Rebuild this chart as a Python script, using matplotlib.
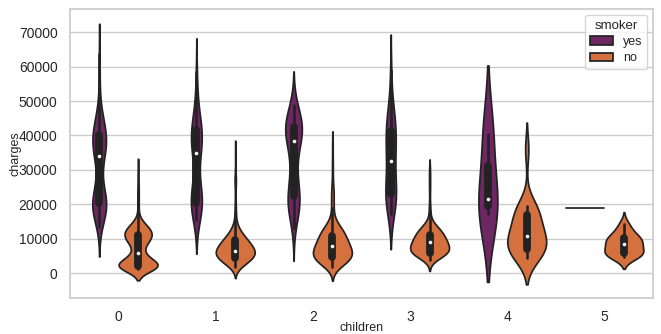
import numpy as np
import pandas as pd
import matplotlib
matplotlib.use("Agg")
import matplotlib.pyplot as plt
import seaborn as sns

children = [0, 1, 2, 3, 4, 5]
smoker_order = ["yes", "no"]

# charges per group, binned as (value, count) estimated from the violin shapes / boxes
yes0_charges = [13500, 15500, 17500, 19000, 20500, 22000, 24000, 26000, 28000, 30000, 32000,
                34000, 36000, 38000, 40000, 42000, 44000, 46000, 48000, 52000, 56000, 60000, 63800]
yes0_counts = [2, 4, 8, 12, 10, 7, 5, 3, 2, 2, 2, 7, 9, 11, 10, 7, 6, 3, 2, 1, 1, 1, 1]

no0_charges = [1200, 2000, 3000, 4000, 5000, 6000, 7000, 8000, 9000, 10000, 11000, 12000,
               13000, 14000, 15000, 16000, 18000, 20000, 22000, 24000, 26000, 28000, 30000]
no0_counts = [50, 72, 52, 28, 16, 12, 10, 14, 24, 32, 36, 36, 29, 19, 8, 4, 2, 3, 3, 3, 2, 2, 2]

yes1_charges = [15500, 17500, 19000, 20500, 22500, 24500, 27000, 30000, 33000, 35000, 37000,
                39500, 41500, 43500, 45500, 48000, 51000, 55000, 58400]
yes1_counts = [2, 3, 5, 7, 5, 3, 2, 2, 1, 4, 5, 6, 6, 3, 2, 2, 1, 1, 1]

no1_charges = [1700, 2500, 3500, 4500, 5500, 6500, 7500, 8500, 9500, 10500, 11500, 12500,
               13500, 15000, 17000, 19000, 21000, 23000, 26000, 27500, 30000, 35400]
no1_counts = [8, 12, 22, 30, 34, 32, 28, 24, 20, 16, 10, 7, 5, 3, 2, 2, 1, 1, 2, 2, 1, 1]

yes2_charges = [13200, 16000, 18500, 20500, 22500, 24500, 27000, 30000, 33000, 36000, 38500,
                40500, 42500, 44500, 46500, 49000]
yes2_counts = [1, 2, 4, 5, 4, 3, 2, 2, 3, 1, 5, 6, 7, 5, 3, 2]

no2_charges = [1800, 2800, 3800, 4800, 5800, 6800, 7800, 8800, 9800, 10800, 11800, 12800,
               13800, 15000, 17000, 19000, 21000, 23000, 24000, 25000, 27000, 30000, 33000, 37200]
no2_counts = [5, 12, 18, 19, 18, 17, 15, 13, 12, 12, 11, 9, 6, 4, 2, 2, 2, 2, 1, 1, 1, 1, 1, 1]

yes3_charges = [17300, 19500, 21500, 23000, 25000, 27500, 30000, 32500, 35000, 37500, 40000,
                42500, 45000, 47500, 52000, 59000]
yes3_counts = [2, 3, 3, 3, 3, 2, 2, 2, 3, 3, 3, 3, 3, 2, 1, 1]

no3_charges = [3900, 5000, 6000, 7000, 8000, 9000, 10000, 11000, 12000, 13000, 14000, 15000,
               16000, 18000, 20000, 24000, 27000, 29800]
no3_counts = [3, 12, 16, 14, 13, 12, 11, 10, 9, 7, 4, 1, 1, 1, 1, 1, 1, 1]

yes4_charges = [17300, 21500, 40500]
yes4_counts = [1, 1, 1]

no4_charges = [4500, 5000, 5500, 6000, 6500, 6900, 7400, 8300, 9300, 10200, 10800, 11000,
               11600, 12500, 14000, 15800, 17200, 17800, 18500, 19000, 19500, 36000]
no4_counts = [1] * len(no4_charges)

yes5_charges = [19000]
yes5_counts = [1]

no5_charges = [4600, 4900, 5200, 5500, 5800, 6300, 6900, 7600, 8500, 8900, 9300, 9700,
               10200, 10800, 11500, 13000, 14400]
no5_counts = [1] * len(no5_charges)

groups = [
    (0, "yes", yes0_charges, yes0_counts), (0, "no", no0_charges, no0_counts),
    (1, "yes", yes1_charges, yes1_counts), (1, "no", no1_charges, no1_counts),
    (2, "yes", yes2_charges, yes2_counts), (2, "no", no2_charges, no2_counts),
    (3, "yes", yes3_charges, yes3_counts), (3, "no", no3_charges, no3_counts),
    (4, "yes", yes4_charges, yes4_counts), (4, "no", no4_charges, no4_counts),
    (5, "yes", yes5_charges, yes5_counts), (5, "no", no5_charges, no5_counts),
]

frames = []
for ch, sm, vals, cnts in groups:
    v = np.repeat(np.array(vals, dtype=float), cnts)
    frames.append(pd.DataFrame({"children": ch, "smoker": sm, "charges": v}))
df = pd.concat(frames, ignore_index=True)

sns.set_theme(style="whitegrid")
plt.rcParams["font.family"] = ["Liberation Sans", "DejaVu Sans"]

fig = plt.figure(figsize=(6.61, 3.34), dpi=100)
ax = fig.add_axes([0.106, 0.108, 0.882, 0.865])

# one call per category so widths are scaled within each children level (old scale_hue behaviour)
for c in children:
    sns.violinplot(data=df[df["children"] == c], x="children", y="charges", hue="smoker",
                   order=children, hue_order=smoker_order, palette="inferno", dodge=True,
                   common_norm=True, linecolor="#222222", legend=(c == children[-1]),
                   inner_kws=dict(marker="o", markersize=2.2, markeredgewidth=0.4), ax=ax)

ax.set_ylim(-7200, 76750)
ax.set_xlim(-0.5, 5.5)
ax.tick_params(labelsize=10, pad=3)
ax.set_xlabel("children", fontsize=9)
ax.set_ylabel("charges", fontsize=9)
ax.yaxis.set_label_coords(-0.084, 0.5)
ax.xaxis.set_label_coords(0.5, -0.083)
ax.legend(title="smoker", loc="upper right", fontsize=9, title_fontsize=9.5,
          labelspacing=0.35, handlelength=1.8, borderaxespad=0.45)
fig.savefig("out.png", dpi=100)
